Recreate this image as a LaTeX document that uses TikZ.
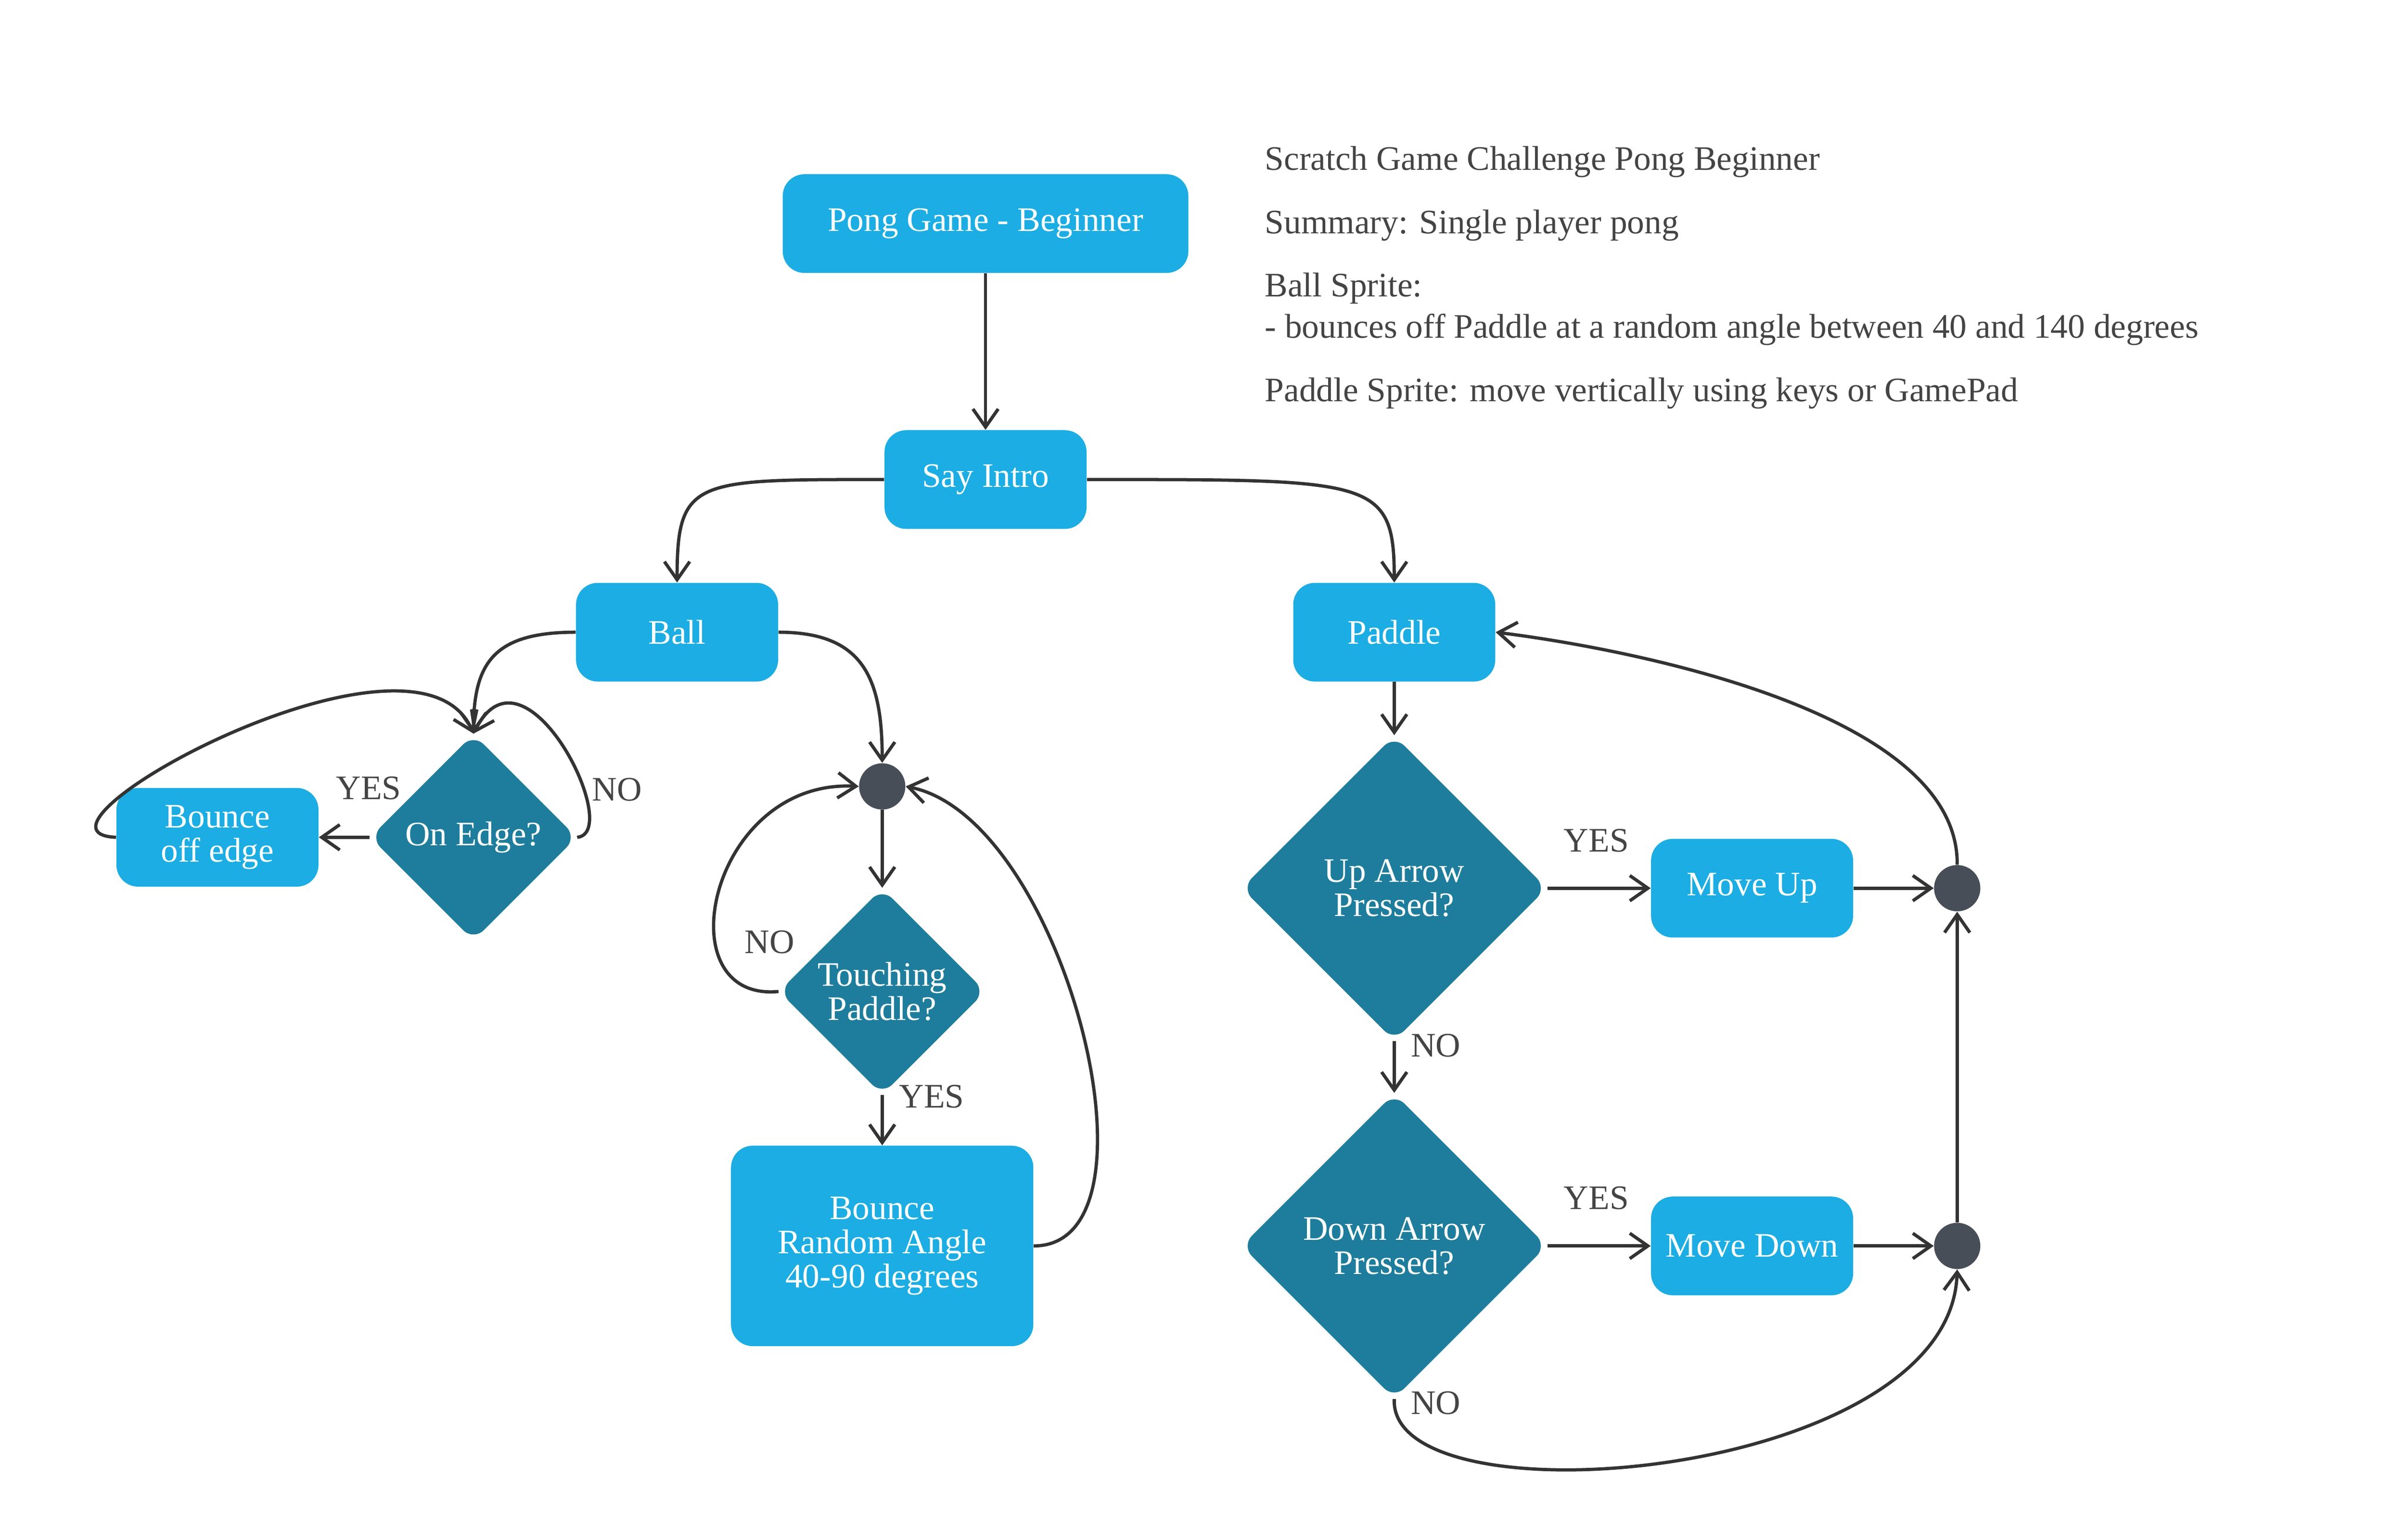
\documentclass[tikz,border=0pt]{standalone}
\usepackage{fontspec}
\setmainfont{Liberation Serif}
\usetikzlibrary{shapes.geometric,arrows.meta}
\definecolor{lb}{HTML}{1BADE3}
\definecolor{db}{HTML}{1E7D9C}
\definecolor{jc}{HTML}{474E58}
\definecolor{ln}{HTML}{333333}
\definecolor{tx}{HTML}{444444}
\begin{document}
\begin{tikzpicture}[x=0.03cm,y=-0.03cm,
  font=\fontsize{19}{23}\selectfont,
  box/.style={fill=lb,text=white,rounded corners=12pt,minimum height=64*0.03cm,align=center,inner sep=0pt},
  dia/.style={fill=db,text=white,diamond,rounded corners=8pt,align=center,inner sep=0pt},
  jn/.style={circle,fill=jc,minimum size=30*0.03cm,inner sep=0pt},
  lab/.style={text=tx},
  ar/.style={draw=ln,line width=1.8pt,-{Straight Barb[length=10pt,width=14pt,line width=1.8pt]}}]
\useasboundingbox (0,0) rectangle (1560,998.7);
\node[box,minimum width=263*0.03cm] (pong) at (639,145) {Pong Game - Beginner};
\node[box,minimum width=131*0.03cm] (intro) at (639,311) {Say Intro};
\node[box,minimum width=131*0.03cm] (ball) at (439,410) {Ball};
\node[box,minimum width=131*0.03cm] (paddle) at (904,410) {Paddle};
\node[dia,minimum width=134*0.03cm,minimum height=134*0.03cm] (edge) at (307,543) {On Edge?};
\node[box,minimum width=131*0.03cm] (boff) at (141,543) {Bounce\\[-4pt]off edge};
\node[jn] (j1) at (572,510) {};
\node[dia,minimum width=134*0.03cm,minimum height=134*0.03cm] (touch) at (572,643) {Touching\\[-4pt]Paddle?};
\node[box,minimum width=196*0.03cm,minimum height=130*0.03cm] (brand) at (572,808) {Bounce\\[-4pt]Random Angle\\[-4pt]40-90 degrees};
\node[dia,minimum width=198*0.03cm,minimum height=198*0.03cm] (up) at (904,576) {Up Arrow\\[-4pt]Pressed?};
\node[box,minimum width=131*0.03cm] (mup) at (1136,576) {Move Up};
\node[jn] (j2) at (1269,576) {};
\node[dia,minimum width=198*0.03cm,minimum height=198*0.03cm] (down) at (904,808) {Down Arrow\\[-4pt]Pressed?};
\node[box,minimum width=131*0.03cm] (mdown) at (1136,808) {Move Down};
\node[jn] (j3) at (1269,808) {};
\node[lab,anchor=west,align=left] (info) at (816,180) {Scratch Game Challenge Pong Beginner\\[12pt]Summary: Single player pong\\[12pt]Ball Sprite:\\- bounces off Paddle at a random angle between 40 and 140 degrees\\[12pt]Paddle Sprite: move vertically using keys or GamePad};
\node[lab] (l1) at (239,511) {YES};
\node[lab] (l2) at (400,512) {NO};
\node[lab] (l3) at (499,611) {NO};
\node[lab] (l4) at (604,711) {YES};
\node[lab] (l5) at (1035,545) {YES};
\node[lab] (l6) at (931,678) {NO};
\node[lab] (l7) at (1035,777) {YES};
\node[lab] (l8) at (931,910) {NO};
\draw[ar] (pong) -- (intro);
\draw[ar] (intro.west) .. controls (450,311) and (439,310) .. (ball.north);
\draw[ar] (intro.east) .. controls (890,311) and (904,310) .. (paddle.north);
\draw[ar] (ball.west) .. controls (320,410) and (307,430) .. (edge.north);
\draw[ar] (ball.east) .. controls (560,410) and (572,440) .. (j1.north);
\draw[ar] (edge.west) -- (boff.east);
\draw[ar] (boff.west) .. controls (0,540) and (270,390) .. (edge.north);
\draw[ar] (edge.east) .. controls (405,540) and (340,410) .. (edge.north);
\draw[ar] (j1) -- (touch.north);
\draw[ar] (touch.west) .. controls (430,650) and (460,505) .. (j1.west);
\draw[ar] (touch.south) -- (brand.north);
\draw[ar] (brand.east) .. controls (760,808) and (690,530) .. (j1.east);
\draw[ar] (paddle) -- (up.north);
\draw[ar] (up.east) -- (mup.west);
\draw[ar] (mup.east) -- (j2.west);
\draw[ar] (up.south) -- (down.north);
\draw[ar] (down.east) -- (mdown.west);
\draw[ar] (mdown.east) -- (j3.west);
\draw[ar] (down.south) .. controls (900,990) and (1265,960) .. (j3.south);
\draw[ar] (j3.north) -- (j2.south);
\draw[ar] (j2.north) .. controls (1270,460) and (1050,420) .. (paddle.east);
\end{tikzpicture}
\end{document}
